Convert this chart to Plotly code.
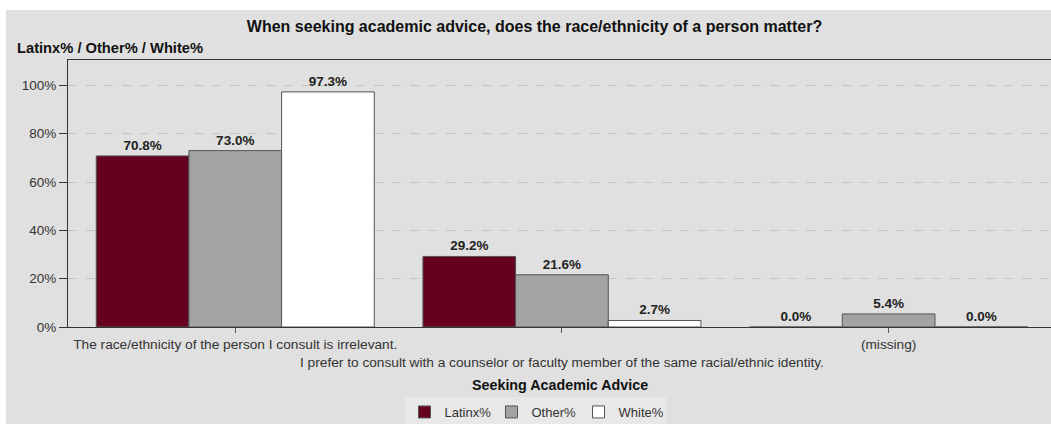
import plotly.graph_objects as go

categories = [
    "The race/ethnicity of the person I consult is irrelevant.",
    "I prefer to consult with a counselor or faculty member of the same racial/ethnic identity.",
    "(missing)",
]
latinx = [70.8, 29.2, 0.0]
other = [73.0, 21.6, 5.4]
white = [97.3, 2.7, 0.0]
series_names = ["Latinx%", "Other%", "White%"]
y_tickvals = [0, 20, 40, 60, 80, 100]
y_ticktext = ["0%", "20%", "40%", "60%", "80%", "100%"]

title_text = "When seeking academic advice, does the race/ethnicity of a person matter?"
y_title = "Latinx% / Other% / White%"
x_title = "Seeking Academic Advice"

colors = ["#66001f", "#a3a3a3", "#ffffff"]
FONT = "Liberation Sans, Arial, sans-serif"

W, H = 1051, 424
ML, MR, MT, MB = 68, 0, 60, 97
PW, PH = W - ML - MR, H - MT - MB


def px_x(px):
    return (px - ML) / PW


def px_y(py):
    return (H - MB - py) / PH


xs = list(range(len(categories)))
# staggered tick labels (odd ones pushed to a second line)
ticktext = [c if i % 2 == 0 else "<br>" + c for i, c in enumerate(categories)]

fig = go.Figure()
for name, vals, col in zip(series_names, [latinx, other, white], colors):
    fig.add_trace(go.Bar(
        x=xs, y=vals, name=name,
        marker=dict(color=col, line=dict(color="#555555", width=1)),
        texttemplate="%{y:.1f}%", textposition="outside",
        textfont=dict(family=FONT, size=13.5, color="#222222", weight="bold"),
        cliponaxis=False,
        hoverinfo="skip",
    ))

fig.update_layout(
    width=W, height=H,
    margin=dict(l=ML, r=MR, t=MT, b=MB, autoexpand=False),
    paper_bgcolor="#ffffff",
    plot_bgcolor="rgba(0,0,0,0)",
    font=dict(family=FONT, size=13, color="#333333"),
    barmode="group", bargap=0.149, bargroupgap=0,
    showlegend=True,
    title=dict(text=title_text, x=534.5 / W, xref="container", xanchor="center",
               y=1 - 26 / H, yref="container", yanchor="middle",
               font=dict(family=FONT, size=16, color="#111111", weight="bold")),
    legend=dict(orientation="h", x=px_x(535), xanchor="center", y=px_y(412), yanchor="middle",
                bgcolor="#e8e8e8", font=dict(family=FONT, size=13, color="#333333"),
                itemwidth=30, entrywidth=42, entrywidthmode="pixels",
                tracegroupgap=0, itemclick=False),
    shapes=[dict(type="rect", xref="paper", yref="paper",
                 x0=px_x(6), x1=px_x(W + 5), y0=px_y(10), y1=px_y(H + 5),
                 fillcolor="#e0e0e0", line=dict(width=0), layer="below")],
    annotations=[
        dict(text=y_title, xref="paper", yref="paper", x=px_x(15), y=px_y(48),
             xanchor="left", yanchor="middle", showarrow=False,
             font=dict(family=FONT, size=14.7, color="#111111", weight="bold")),
        dict(text=x_title, xref="paper", yref="paper", x=px_x(560), y=px_y(385),
             xanchor="center", yanchor="middle", showarrow=False,
             font=dict(family=FONT, size=14.3, color="#111111", weight="bold")),
    ],
)

fig.update_xaxes(
    tickmode="array", tickvals=xs, ticktext=ticktext, tickangle=0,
    range=[-0.512, 2.497],
    showline=True, linecolor="#333333", linewidth=1, mirror=True,
    ticks="outside", ticklen=5, tickcolor="#555555",
    showgrid=False, zeroline=False,
    tickfont=dict(family=FONT, size=13.7, color="#333333"),
)
fig.update_yaxes(
    range=[0, 110.5], tickmode="array", tickvals=y_tickvals, ticktext=y_ticktext,
    showline=True, linecolor="#333333", linewidth=1,
    ticks="outside", ticklen=8, tickcolor="#333333",
    showgrid=True, gridcolor="#c4c4c4", griddash="dash", gridwidth=1,
    zeroline=False,
    tickfont=dict(family=FONT, size=13.5, color="#333333"),
)

fig.write_html("out.html")
